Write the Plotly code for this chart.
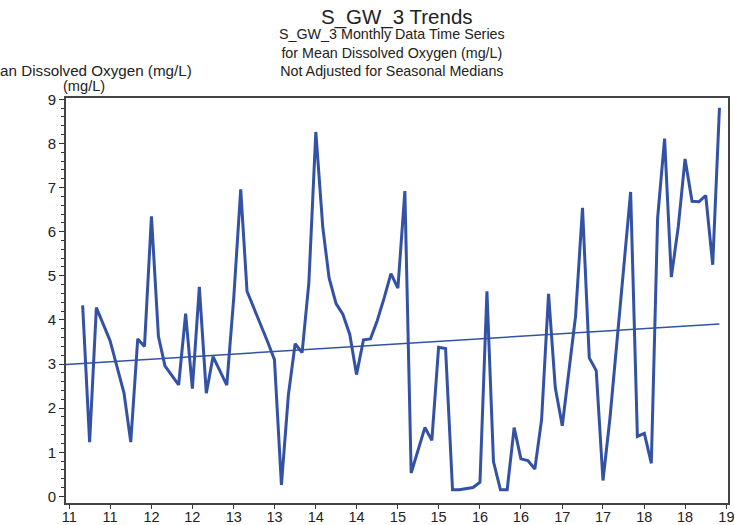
import pandas as pd
import plotly.graph_objects as go

# Monthly mean dissolved oxygen, months counted from January 2011
month_index = [2, 3, 4, 6, 8, 9, 10, 11, 12, 13, 14, 16, 17, 18, 19, 20, 21, 23, 24, 25,
               26, 27, 28, 29, 30, 31, 32, 33, 34, 35, 36, 37, 38, 39, 40, 41, 42, 43, 44, 45,
               46, 47, 48, 49, 50, 52, 53, 54, 55, 56, 57, 58, 59, 60, 61, 62, 63, 64, 65, 66,
               67, 68, 69, 70, 71, 72, 73, 74, 75, 76, 77, 78, 79, 82, 83, 84, 85, 86, 87, 88,
               89, 90, 91, 92, 93, 94, 95]
do_mgL = [4.33, 1.23, 4.28, 3.53, 2.34, 1.23, 3.57, 3.40, 6.35, 3.63, 2.96, 2.53, 4.14, 2.44, 4.75, 2.34, 3.17, 2.52, 4.50, 6.96,
          4.65, 4.27, 3.90, 3.50, 3.10, 0.26, 2.30, 3.46, 3.26, 4.84, 8.26, 6.10, 4.95, 4.37, 4.13, 3.67, 2.76, 3.55, 3.57, 3.98,
          4.50, 5.05, 4.72, 6.92, 0.53, 1.56, 1.27, 3.38, 3.35, 0.15, 0.15, 0.17, 0.20, 0.32, 4.65, 0.79, 0.15, 0.15, 1.56, 0.85,
          0.81, 0.62, 1.74, 4.59, 2.46, 1.60, 2.85, 4.08, 6.54, 3.14, 2.85, 0.36, 1.77, 6.90, 1.36, 1.43, 0.75, 6.31, 8.11, 4.97,
          6.12, 7.65, 6.69, 6.68, 6.82, 5.25, 8.81]

# Fitted trend end points
trend_dates = ["2010-12-17", "2018-12-01"]
trend_values = [2.99, 3.91]

# Half-year ticks labelled with two-digit years
tick_dates = [f"{y}-{m:02d}-01" for y in range(2011, 2019) for m in (1, 7)] + ["2019-01-01"]
tick_labels = [d[2:4] for d in tick_dates]

dates = [pd.Timestamp(2011 + m // 12, m % 12 + 1, 1) for m in month_index]

line_color = "#3352a5"
text_color = "#222222"
font_family = "Liberation Sans, Arial, sans-serif"

fig = go.Figure()
fig.add_trace(go.Scatter(x=dates, y=do_mgL, mode="lines",
                         line=dict(color=line_color, width=3), showlegend=False))
fig.add_trace(go.Scatter(x=trend_dates, y=trend_values, mode="lines",
                         line=dict(color=line_color, width=1.5), showlegend=False))

fig.update_layout(
    width=735, height=525,
    margin=dict(l=66, r=7, t=98, b=22, pad=0),
    paper_bgcolor="white", plot_bgcolor="white",
    font=dict(family=font_family, size=14, color=text_color),
    annotations=[
        dict(text="S_GW_3 Trends", x=0.4995, y=1, xref="paper", yref="paper",
             yanchor="bottom", yshift=67, showarrow=False, font=dict(size=20.5)),
        dict(text="S_GW_3 Monthly Data Time Series<br>for Mean Dissolved Oxygen (mg/L)<br>Not Adjusted for Seasonal Medians",
             x=0.492, y=1, xref="paper", yref="paper", yanchor="bottom", yshift=17,
             showarrow=False, font=dict(size=14.3)),
        dict(text="Mean Dissolved Oxygen (mg/L)", x=0.029, y=1, xref="paper", yref="paper",
             xanchor="center", yanchor="middle", yshift=28, showarrow=False, font=dict(size=15.2)),
        dict(text="(mg/L)", x=0.027, y=1, xref="paper", yref="paper",
             xanchor="center", yanchor="middle", yshift=12, showarrow=False, font=dict(size=14.6)),
    ],
)

fig.update_xaxes(
    type="date", range=["2010-12-17", "2019-01-08"], automargin=False,
    tickvals=tick_dates, ticktext=tick_labels, tickangle=0,
    ticks="outside", ticklen=4, tickwidth=1.2, tickcolor="#333333",
    ticklabelstandoff=-4,
    showgrid=False, zeroline=False,
    showline=True, linecolor="#444444", linewidth=1.6, mirror=True,
    tickfont=dict(size=14.5),
)
fig.update_yaxes(
    range=[-0.15, 9.03], automargin=False, tickmode="array", tickvals=list(range(0, 10)),
    ticks="outside", ticklen=5, tickwidth=1.2, tickcolor="#333333",
    minor=dict(dtick=0.2, ticks="outside", ticklen=3, tickcolor="#333333", showgrid=False),
    showgrid=False, zeroline=False,
    showline=True, linecolor="#444444", linewidth=1.6, mirror=True,
    tickfont=dict(size=15),
)

fig.write_html("out.html")
